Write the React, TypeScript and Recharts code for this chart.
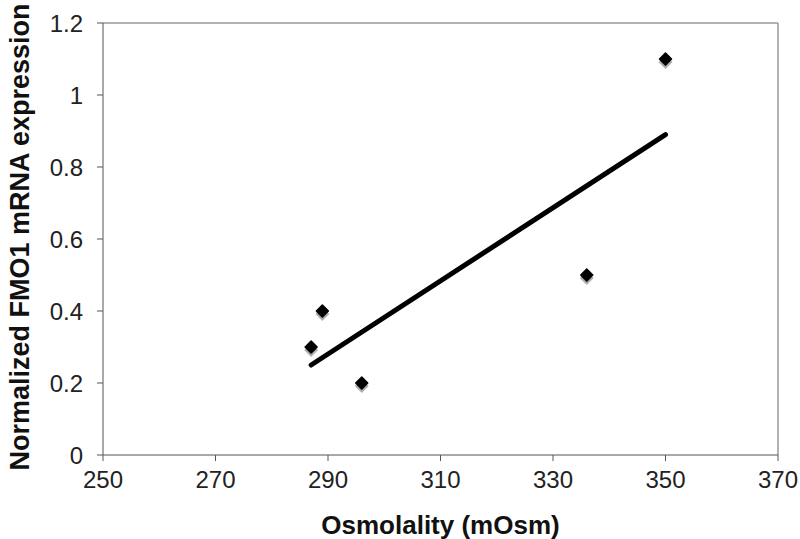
import { ScatterChart, Scatter, XAxis, YAxis, ReferenceLine } from 'recharts'

const osmolality = [287, 289, 296, 336, 350]
const expression = [0.3, 0.4, 0.2, 0.5, 1.1]
const trendX = [287, 350]
const trendY = [0.25, 0.89]
const xTicks = [250, 270, 290, 310, 330, 350, 370]
const yTicks = [0, 0.2, 0.4, 0.6, 0.8, 1, 1.2]

const points = osmolality.map((x, i) => ({ x, y: expression[i] }))
const trend = trendX.map((x, i) => ({ x, y: trendY[i] }))

const FONT = 'Arial, "Liberation Sans", Helvetica, sans-serif'

function Diamond(props: any) {
  const { cx, cy } = props
  if (cx == null || cy == null) return <g />
  const r = 6
  const d = (oy: number) =>
    `M${cx},${cy + oy - r} L${cx + r},${cy + oy} L${cx},${cy + oy + r} L${cx - r},${cy + oy} Z`
  return (
    <g>
      <path d={d(3)} fill="#a0a0a0" stroke="#b0b0b0" strokeWidth={1.5} strokeLinejoin="round" />
      <path d={d(0)} fill="#000" stroke="#000" strokeWidth={1.5} strokeLinejoin="round" />
    </g>
  )
}

function YLabel(props: any) {
  const { viewBox } = props
  const cy = viewBox ? viewBox.y + viewBox.height / 2 - 2 : 238
  return (
    <text
      x={20}
      y={cy}
      transform={`rotate(-90, 20, ${cy})`}
      textAnchor="middle"
      dominantBaseline="central"
      fontFamily={FONT}
      fontWeight="bold"
      fontSize={27}
      fill="#111"
    >
      Normalized FMO1 mRNA expression
    </text>
  )
}

export default function App() {
  return (
    <div style={{ position: 'absolute', left: 0, top: 0, background: '#fff' }}>
      <ScatterChart width={800} height={539} margin={{ top: 23, right: 22, bottom: 0, left: 0 }}>
        <XAxis
          type="number"
          dataKey="x"
          domain={[250, 370]}
          ticks={xTicks}
          allowDataOverflow
          height={84}
          tickSize={6}
          tickMargin={10}
          stroke="#555"
          tick={{ fill: '#222', fontSize: 24, fontFamily: FONT }}
          label={{
            value: 'Osmolality (mOsm)',
            position: 'insideBottom',
            offset: 5,
            fill: '#111',
            fontSize: 26,
            fontWeight: 'bold',
            fontFamily: FONT,
          }}
        />
        <YAxis
          type="number"
          dataKey="y"
          domain={[0, 1.2]}
          ticks={yTicks}
          allowDataOverflow
          width={103}
          tickSize={6}
          tickMargin={14}
          stroke="#555"
          tick={{ fill: '#222', fontSize: 24, fontFamily: FONT }}
          label={<YLabel />}
        />
        <ReferenceLine y={1.2} stroke="#999" strokeWidth={1.5} />
        <ReferenceLine x={370} stroke="#999" strokeWidth={1.5} />
        <Scatter
          data={trend}
          line={{ stroke: '#000', strokeWidth: 5, strokeLinecap: 'round' }}
          shape={() => <g />}
          isAnimationActive={false}
        />
        <Scatter data={points} shape={<Diamond />} isAnimationActive={false} />
      </ScatterChart>
    </div>
  )
}
